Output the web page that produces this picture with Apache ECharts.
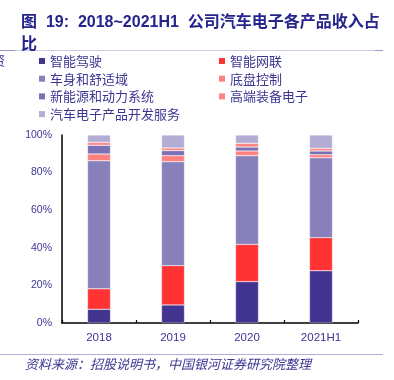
<!DOCTYPE html>
<html>
<head>
<meta charset="utf-8">
<script src="https://cdn.jsdelivr.net/npm/echarts@6/dist/echarts.min.js"></script>
<style>html,body{margin:0;padding:0;background:#fff;}#c{width:394px;height:380px;}</style>
</head>
<body>
<div id="c"></div>
<script>
var categories = ['2018', '2019', '2020', '2021H1'];
var seriesNames = ['智能驾驶', '智能网联', '车身和舒适域', '底盘控制', '新能源和动力系统', '高端装备电子', '汽车电子产品开发服务'];
var autoDriving = [7.3, 9.6, 22.0, 27.8];
var connected = [10.9, 20.9, 19.8, 17.6];
var bodyComfort = [68.1, 55.3, 47.2, 42.5];
var chassis = [3.6, 3.2, 2.5, 1.6];
var newEnergy = [4.6, 2.7, 2.1, 2.0];
var highEnd = [1.6, 1.4, 2.0, 1.4];
var devService = [3.9, 6.9, 4.4, 7.1];
var yTicks = [0, 20, 40, 60, 80, 100];

var values = [autoDriving, connected, bodyComfort, chassis, newEnergy, highEnd, devService];
var colors = ['#413591', '#ff3333', '#8880bb', '#ff8080', '#7a70b3', '#ff8585', '#b3acd5'];
var txt = '#3d3592';

var chart = echarts.init(document.getElementById('c'));
var series = seriesNames.map(function (n, i) {
  return {
    name: n, type: 'bar', stack: 'total', barWidth: 23,
    data: values[i],
    itemStyle: { color: colors[i], borderColor: 'rgba(255,255,255,0.6)', borderWidth: 0.5 }
  };
});
var legendText = { color: txt, fontSize: 13, fontFamily: 'Noto Sans CJK SC', lineHeight: 16 };
chart.setOption({
  animation: false,
  title: {
    text: '图  19:  2018~2021H1  公司汽车电子各产品收入占\n比',
    left: 16, top: 7,
    textStyle: { color: '#25238c', fontSize: 16, fontWeight: 'bold', fontFamily: 'Liberation Sans, Noto Sans CJK SC', lineHeight: 22 }
  },
  legend: [
    { orient: 'vertical', left: 36, top: 53, itemGap: 1.7, itemWidth: 6, itemHeight: 6, icon: 'rect', itemStyle: {borderWidth: 0},
      data: [seriesNames[0], seriesNames[2], seriesNames[4], seriesNames[6]], textStyle: legendText, padding: [0,0,0,3] },
    { orient: 'vertical', left: 216, top: 53, itemGap: 1.7, itemWidth: 6, itemHeight: 6, icon: 'rect', itemStyle: {borderWidth: 0},
      data: [seriesNames[1], seriesNames[3], seriesNames[5]], textStyle: legendText, padding: [0,0,0,3] }
  ],
  grid: { left: 62, right: 36, top: 135, bottom: 57 },
  xAxis: {
    type: 'category', data: categories,
    axisLine: { lineStyle: { color: '#000', width: 1.5 } },
    axisTick: { show: true, inside: true, length: 3, lineStyle: { color: '#000', width: 1.2 } },
    axisLabel: { color: txt, fontSize: 11.5, margin: 9, fontFamily: 'Liberation Sans' }
  },
  yAxis: {
    type: 'value', min: 0, max: 100, interval: 20,
    axisLine: { show: true, lineStyle: { color: '#000', width: 1.5 } },
    axisTick: { show: false },
    splitLine: { show: false },
    axisLabel: { color: txt, fontSize: 10.5, margin: 10, fontFamily: 'Liberation Sans', formatter: function (v) { return v + '%'; } }
  },
  graphic: [
    { type: 'line', shape: { x1: 0, y1: 50.5, x2: 383, y2: 50.5 }, style: { stroke: '#cfcbe4', lineWidth: 1 } },
    { type: 'line', shape: { x1: 0, y1: 50.5, x2: 15, y2: 50.5 }, style: { stroke: '#9d97c8', lineWidth: 1 } },
    { type: 'line', shape: { x1: 375, y1: 50.5, x2: 383, y2: 50.5 }, style: { stroke: '#9d97c8', lineWidth: 1 } },
    { type: 'line', shape: { x1: 0, y1: 354.5, x2: 383, y2: 354.5 }, style: { stroke: '#b4aed6', lineWidth: 1 } },
    { type: 'text', left: -8, top: 54, style: { text: '资', fill: txt, font: '13px "Noto Sans CJK SC"' } },
    { type: 'text', left: 25, top: 358, style: { text: '资料来源：招股说明书，中国银河证券研究院整理', fill: txt, font: 'italic 13px "Noto Sans CJK SC"' } }
  ],
  series: series
});
</script>
</body>
</html>
